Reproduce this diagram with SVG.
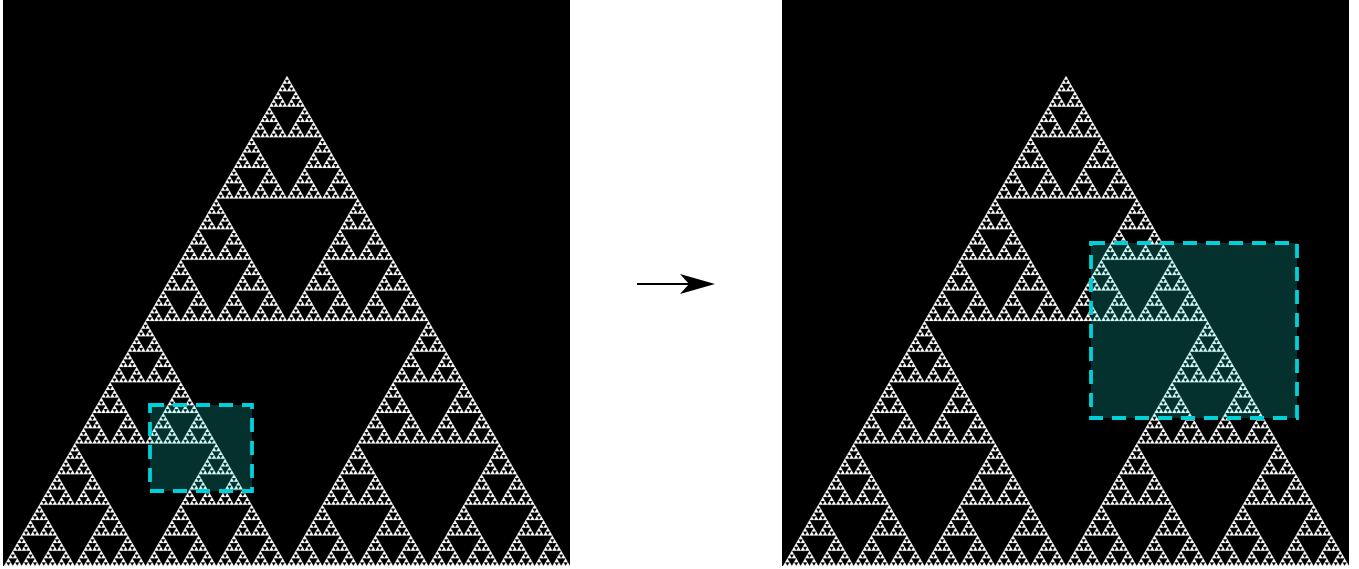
<svg xmlns="http://www.w3.org/2000/svg" xmlns:xlink="http://www.w3.org/1999/xlink" width="1359" height="569" viewBox="0 0 1359 569">
<style>
.panel{fill:#000}
.box{fill:#14f0e0;fill-opacity:0.2;stroke:#00d0d8;stroke-width:3.8;stroke-dasharray:14 9}
</style>
<defs>
<polygon id="t0" points="0,0 -283,490 283,490" fill="#fff" stroke="#fff" stroke-width="25"/>
<g id="t1"><use xlink:href="#t0" transform="scale(0.5)"/><use xlink:href="#t0" transform="translate(-141.5,245) scale(0.5)"/><use xlink:href="#t0" transform="translate(141.5,245) scale(0.5)"/></g>
<g id="t2"><use xlink:href="#t1" transform="scale(0.5)"/><use xlink:href="#t1" transform="translate(-141.5,245) scale(0.5)"/><use xlink:href="#t1" transform="translate(141.5,245) scale(0.5)"/></g>
<g id="t3"><use xlink:href="#t2" transform="scale(0.5)"/><use xlink:href="#t2" transform="translate(-141.5,245) scale(0.5)"/><use xlink:href="#t2" transform="translate(141.5,245) scale(0.5)"/></g>
<g id="t4"><use xlink:href="#t3" transform="scale(0.5)"/><use xlink:href="#t3" transform="translate(-141.5,245) scale(0.5)"/><use xlink:href="#t3" transform="translate(141.5,245) scale(0.5)"/></g>
<g id="t5"><use xlink:href="#t4" transform="scale(0.5)"/><use xlink:href="#t4" transform="translate(-141.5,245) scale(0.5)"/><use xlink:href="#t4" transform="translate(141.5,245) scale(0.5)"/></g>
<g id="t6"><use xlink:href="#t5" transform="scale(0.5)"/><use xlink:href="#t5" transform="translate(-141.5,245) scale(0.5)"/><use xlink:href="#t5" transform="translate(141.5,245) scale(0.5)"/></g>
<g id="t7"><use xlink:href="#t6" transform="scale(0.5)"/><use xlink:href="#t6" transform="translate(-141.5,245) scale(0.5)"/><use xlink:href="#t6" transform="translate(141.5,245) scale(0.5)"/></g>
</defs>
<rect width="1359" height="569" fill="#fff"/>
<g id="left-panel">
<rect class="panel" x="3" y="0" width="567" height="566"/>
<use xlink:href="#t7" transform="translate(287,76)"/>
<rect class="box" x="150" y="405" width="102" height="86"/>
</g>
<g id="right-panel">
<rect class="panel" x="782" y="0" width="567" height="566"/>
<use xlink:href="#t7" transform="translate(1066,76)"/>
<rect class="box" x="1091" y="243" width="206" height="175"/>
</g>
<g id="connectors">
<line x1="637" y1="284" x2="695" y2="284" stroke="#000" stroke-width="2"/>
<path d="M715,284 L680,274 L689,284 L680,294 Z" fill="#000"/>
</g>
</svg>
